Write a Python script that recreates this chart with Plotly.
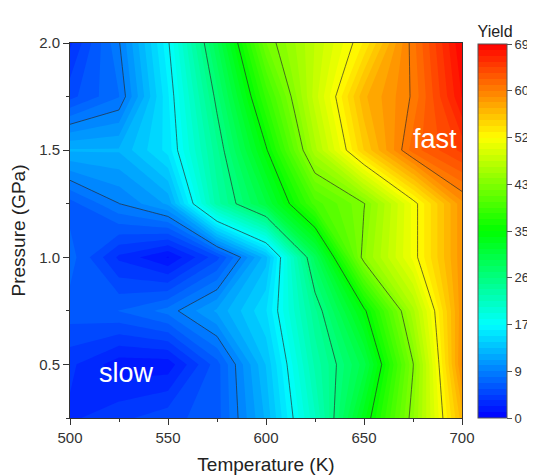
import plotly.graph_objects as go

# ---- data ----
temperature = [500, 525, 550, 575, 600, 625, 650, 675, 700]          # K
pressure = [0.25, 0.5, 0.75, 1.0, 1.25, 1.5, 1.75, 2.0]               # GPa

yield_p025 = [3.0, 4.0, 5.0, 6.0, 12.1, 21.4, 33.0, 44.0, 56.7]
yield_p050 = [3.5, 1.5, 1.5, 6.0, 13.0, 22.9, 29.7, 43.0, 59.5]
yield_p075 = [6.0, 6.5, 8.0, 11.0, 15.0, 24.5, 34.0, 46.0, 59.0]
yield_p100 = [7.0, 3.0, 1.0, 5.0, 12.5, 28.5, 44.0, 51.0, 59.0]
yield_p125 = [6.0, 8.6, 11.0, 23.2, 30.1, 39.3, 43.0, 51.0, 59.0]
yield_p150 = [12.0, 12.0, 15.5, 24.5, 34.2, 46.0, 55.0, 62.0, 65.0]
yield_p175 = [5.0, 7.5, 16.0, 26.5, 38.0, 48.0, 56.9, 60.6, 68.0]
yield_p200 = [3.0, 8.5, 17.0, 29.0, 42.0, 47.5, 53.0, 61.0, 69.0]

cbar_tickvals = [0, 8.625, 17.25, 25.875, 34.5, 43.125, 51.75, 60.375, 69]
cbar_ticktext = ["0", "9", "17", "26", "35", "43", "52", "60", "69"]

yield_grid = [yield_p025, yield_p050, yield_p075, yield_p100,
              yield_p125, yield_p150, yield_p175, yield_p200]

rainbow = [[0.0, "rgb(0,0,255)"], [0.25, "rgb(0,255,255)"],
           [0.5, "rgb(0,255,0)"], [0.75, "rgb(255,255,0)"],
           [1.0, "rgb(255,0,0)"]]

FONT = "Liberation Sans, Arial, sans-serif"
INK = "#222222"

fig = go.Figure()

fig.add_trace(go.Contour(
    x=temperature, y=pressure, z=yield_grid,
    zmin=0, zmax=69, zauto=False,
    autocontour=False,
    contours=dict(start=0, end=69, size=69 / 64, coloring="fill", showlines=False),
    line=dict(width=0, smoothing=0),
    colorscale=rainbow,
    hoverinfo="skip",
    colorbar=dict(
        title=dict(text="Yield", side="top",
                   font=dict(size=16, family=FONT, color=INK, weight="normal")),
        tickmode="array", tickvals=cbar_tickvals, ticktext=cbar_ticktext,
        ticks="outside", ticklen=5, tickcolor="#555", tickwidth=1,
        tickfont=dict(size=13, family=FONT, color="#333"),
        thicknessmode="pixels", thickness=29,
        lenmode="pixels", len=396,
        x=1.041, xanchor="left", xpad=0,
        y=0, yanchor="bottom", ypad=0,
        outlinewidth=1, outlinecolor="#555",
    ),
))

fig.add_trace(go.Contour(
    x=temperature, y=pressure, z=yield_grid,
    autocontour=False,
    contours=dict(start=cbar_tickvals[1], end=cbar_tickvals[-2], size=cbar_tickvals[1],
                  coloring="none"),
    line=dict(color="rgba(40,40,40,0.75)", width=0.9, smoothing=0),
    showscale=False,
    hoverinfo="skip",
))

fig.add_annotation(x=528.6, y=0.46, text="slow", showarrow=False,
                   font=dict(size=27, family=FONT, color="white"))
fig.add_annotation(x=686, y=1.55, text="fast", showarrow=False,
                   font=dict(size=27, family=FONT, color="white"))

fig.update_layout(
    width=527, height=467,
    margin=dict(l=62, r=73, t=35, b=57, autoexpand=False),
    paper_bgcolor="white", plot_bgcolor="white",
    font=dict(family=FONT, color=INK),
    showlegend=False,
    xaxis=dict(
        range=[500, 700], tick0=500, dtick=50,
        ticks="outside", ticklen=6, tickcolor="#333",
        minor=dict(dtick=25, ticks="outside", ticklen=3, tickcolor="#333"),
        showline=True, linecolor="#333", linewidth=1, mirror=True,
        showgrid=False, zeroline=False,
        tickfont=dict(size=15, family=FONT, color="#333"),
        title=dict(text="Temperature (K)", font=dict(size=19, family=FONT, color=INK), standoff=12),
    ),
    yaxis=dict(
        range=[0.25, 2.0], tick0=0.5, dtick=0.5, tickformat=".1f",
        ticks="outside", ticklen=6, tickcolor="#333",
        minor=dict(dtick=0.25, ticks="outside", ticklen=3, tickcolor="#333"),
        showline=True, linecolor="#333", linewidth=1, mirror=True,
        showgrid=False, zeroline=False,
        tickfont=dict(size=15, family=FONT, color="#333"),
        title=dict(text="Pressure (GPa)", font=dict(size=19, family=FONT, color=INK), standoff=8),
    ),
)

fig.write_html("out.html")
